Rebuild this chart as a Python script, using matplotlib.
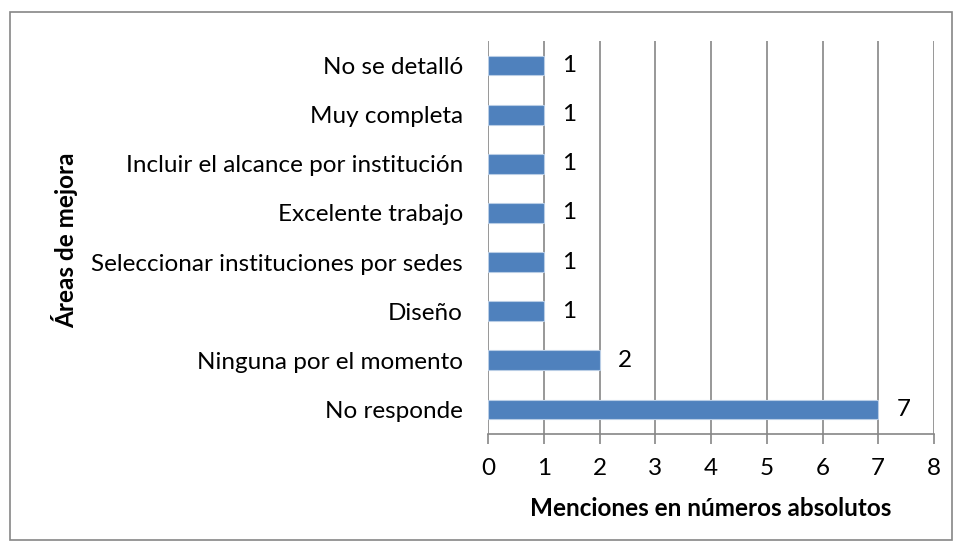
import matplotlib
matplotlib.use("Agg")
import matplotlib.pyplot as plt
from matplotlib.patches import Rectangle

categories = ["No responde", "Ninguna por el momento", "Diseño",
              "Seleccionar instituciones por sedes", "Excelente trabajo",
              "Incluir el alcance por institución", "Muy completa", "No se detalló"]
values = [7, 2, 1, 1, 1, 1, 1, 1]
xticks = [0, 1, 2, 3, 4, 5, 6, 7, 8]

plt.rcParams['font.family'] = ['Lato', 'DejaVu Sans']
FS = 17.5

fig = plt.figure(figsize=(9.6, 5.5), dpi=100)
ax = fig.add_axes([488/960, 116/550, 446/960, 393/550])

y = list(range(len(categories)))
ax.barh(y, values, height=0.4, color="#4F81BD", edgecolor="#B9CDE5", linewidth=0.8, zorder=3)
for yi, v in zip(y, values):
    ax.text(v + 0.33, yi, str(v), va="center", ha="left", fontsize=FS, color="black")

ax.set_xlim(0, 8)
ax.set_ylim(-0.5, len(categories) - 0.5)
ax.set_xticks(xticks)
ax.set_xticklabels([str(t) for t in xticks], fontsize=FS)
ax.set_yticks(y)
ax.set_yticklabels(categories, fontsize=FS)
ax.tick_params(axis="y", length=0, pad=18)
ax.tick_params(axis="x", direction="out", length=7, width=1.2, color="#868686", pad=10)
ax.xaxis.grid(True, color="#868686", linewidth=1.2, zorder=0)
ax.set_axisbelow(True)
for s in ["top", "right", "left"]:
    ax.spines[s].set_visible(False)
ax.spines["bottom"].set_color("#868686")
ax.spines["bottom"].set_linewidth(1.2)

fig.text(711/960, 1 - 508/550, "Menciones en números absolutos", fontsize=FS,
         fontweight="bold", ha="center", va="center")
fig.text(65/960, 1 - 240/550, "Áreas de mejora", rotation=90, fontsize=FS,
         fontweight="bold", ha="center", va="center")

fig.patches.append(Rectangle((10/960, 10/550), 942/960, 528/550, transform=fig.transFigure,
                             fill=False, edgecolor="#868686", linewidth=1.2))

fig.savefig("out.png", dpi=100)
